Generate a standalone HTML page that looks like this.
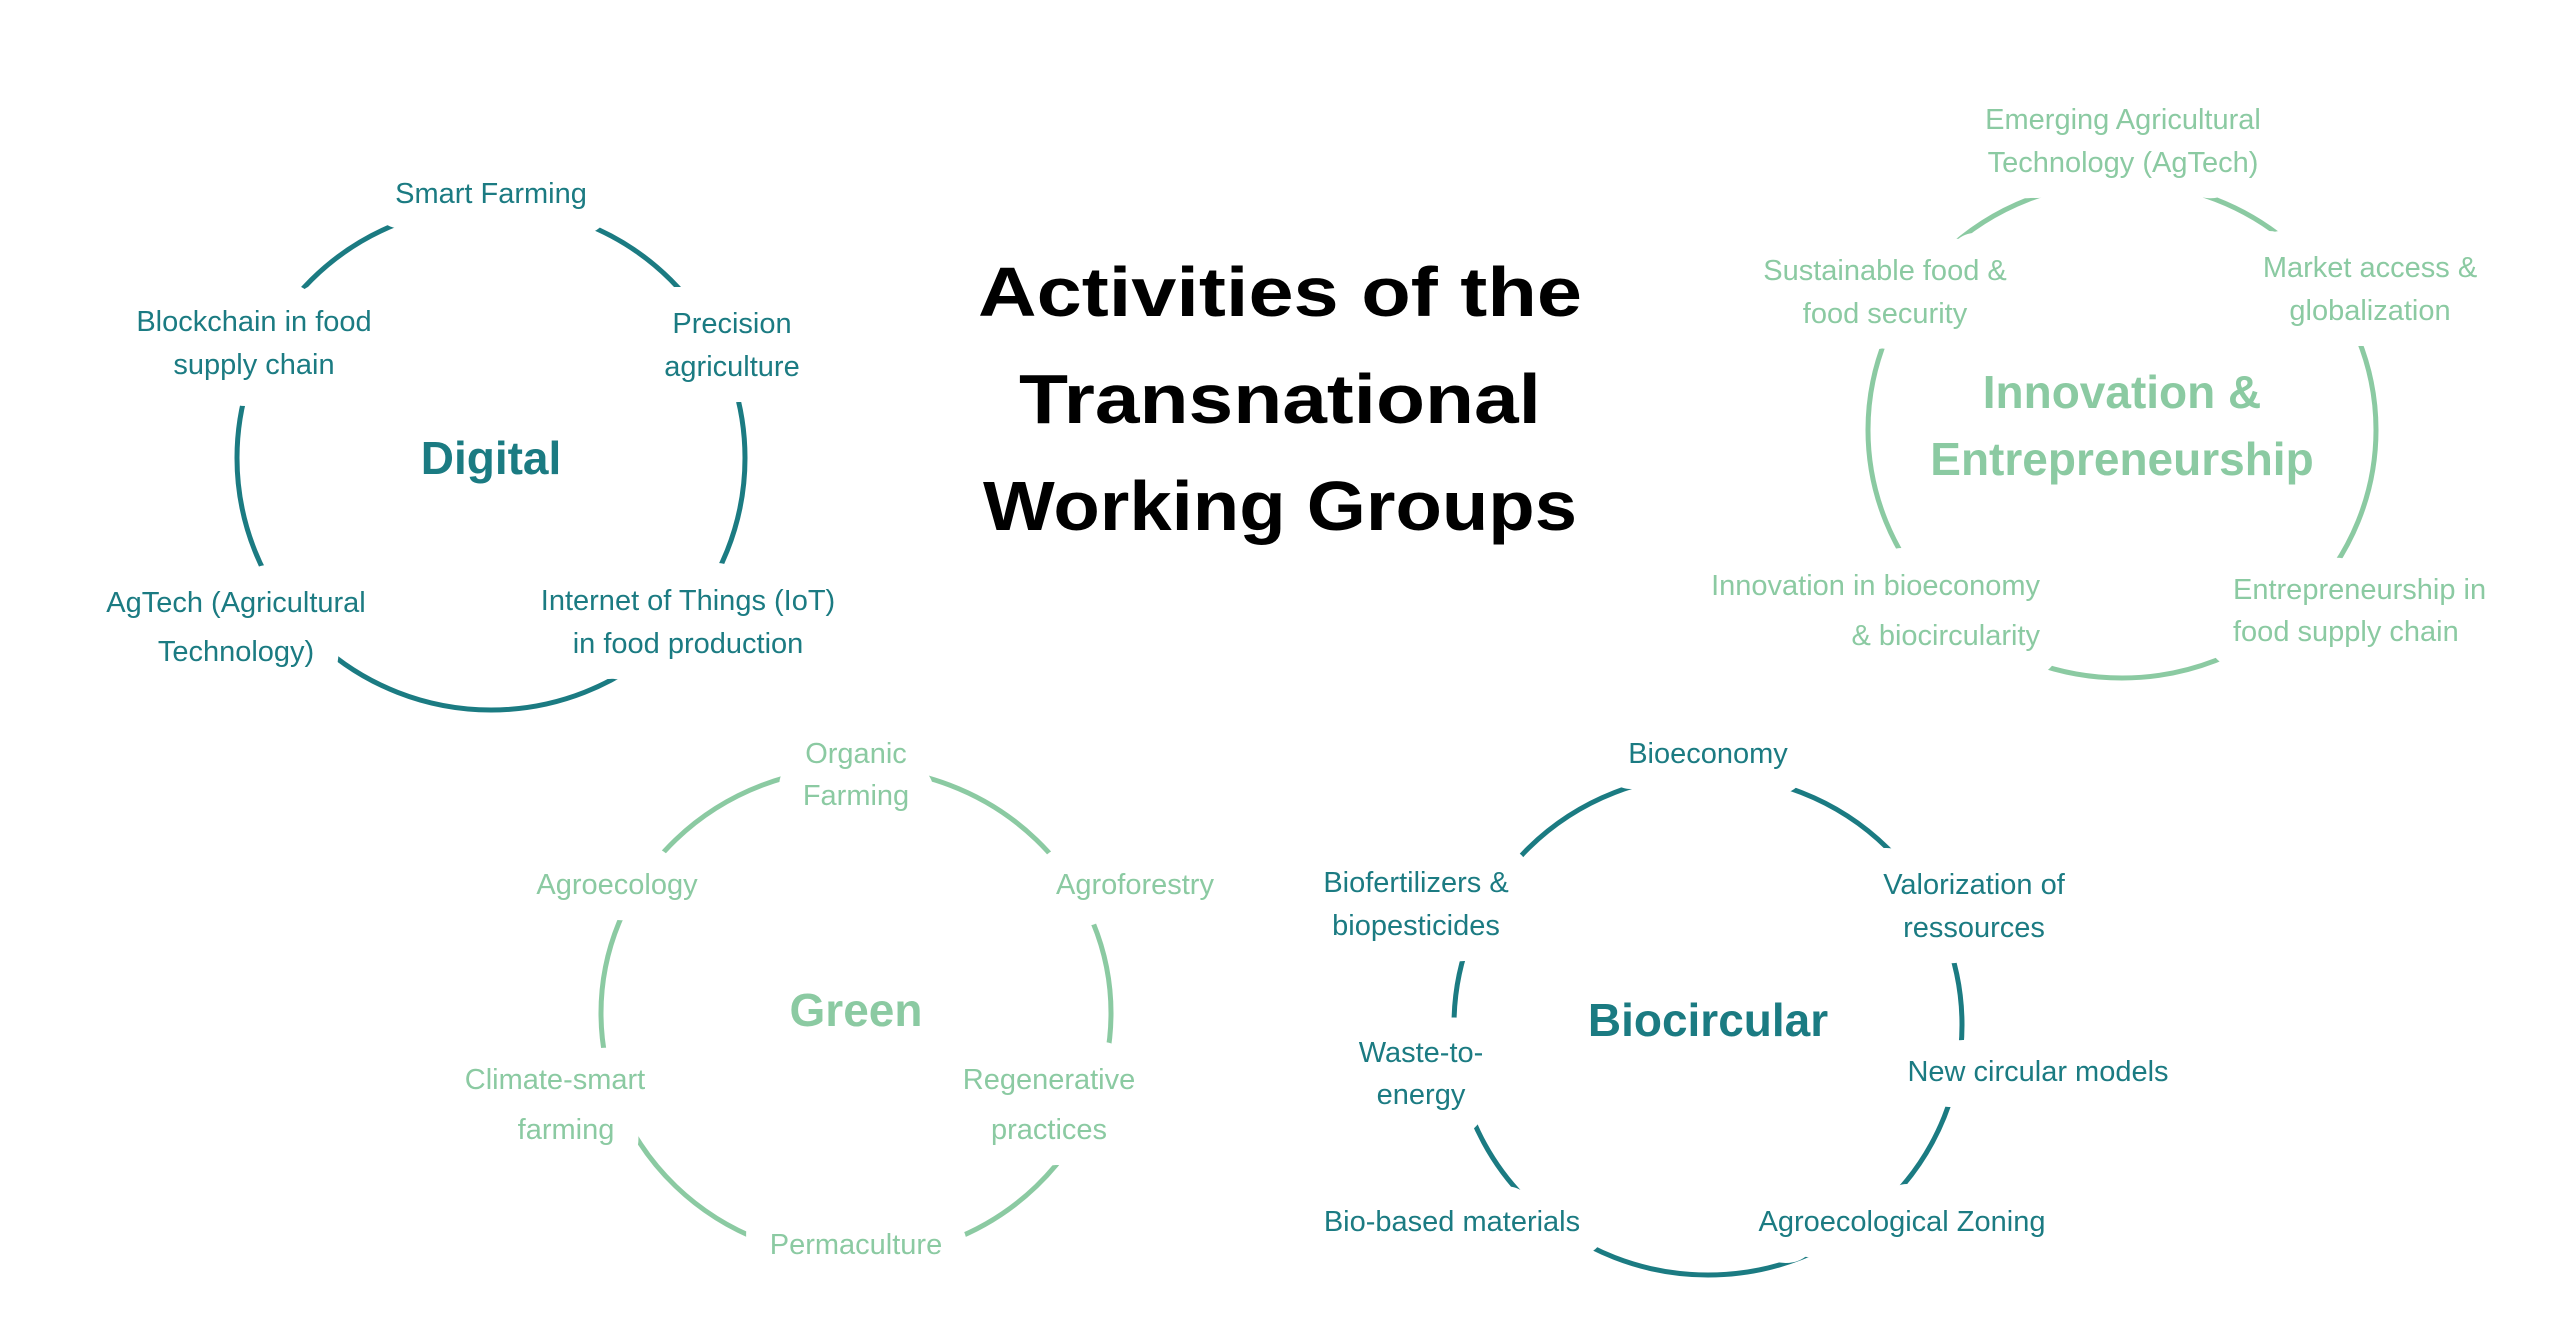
<!DOCTYPE html>
<html><head><meta charset="utf-8"><style>
html,body{margin:0;padding:0;background:#fff;}
svg{display:block;}
text{font-family:"Liberation Sans",sans-serif;}
.l{font-size:29px;text-anchor:middle;}
.h{font-weight:bold;font-size:46px;text-anchor:middle;}
</style></head><body>
<svg width="2560" height="1337" viewBox="0 0 2560 1337" xmlns="http://www.w3.org/2000/svg" xmlns:xlink="http://www.w3.org/1999/xlink">
<rect width="2560" height="1337" fill="#fff"/>
<defs>
<g id="tl">
<text class="l" x="496" y="205">Smart Farming</text>
<text class="l" x="259" y="333">Blockchain in food</text>
<text class="l" x="259" y="376">supply chain</text>
<text class="l" x="737" y="335">Precision</text>
<text class="l" x="737" y="378">agriculture</text>
<text class="l" x="241" y="614">AgTech (Agricultural</text>
<text class="l" x="241" y="663">Technology)</text>
<text class="l" x="693" y="612">Internet of Things (IoT)</text>
<text class="l" x="693" y="655">in food production</text>
<text class="l" x="1713" y="765">Bioeconomy</text>
<text class="l" x="1421" y="894">Biofertilizers &amp;</text>
<text class="l" x="1421" y="937">biopesticides</text>
<text class="l" x="1979" y="896">Valorization of</text>
<text class="l" x="1979" y="939">ressources</text>
<text class="l" x="1426" y="1064">Waste-to-</text>
<text class="l" x="1426" y="1106">energy</text>
<text class="l" x="2043" y="1083">New circular models</text>
<text class="l" x="1457" y="1233">Bio-based materials</text>
<text class="l" x="1907" y="1233">Agroecological Zoning</text>
</g>
<g id="gl">
<text class="l" x="2128" y="131">Emerging Agricultural</text>
<text class="l" x="2128" y="174">Technology (AgTech)</text>
<text class="l" x="1890" y="282">Sustainable food &amp;</text>
<text class="l" x="1890" y="325">food security</text>
<text class="l" x="2375" y="279">Market access &amp;</text>
<text class="l" x="2375" y="322">globalization</text>
<text class="l" x="2045" y="597" style="text-anchor:end">Innovation in bioeconomy</text>
<text class="l" x="2045" y="647" style="text-anchor:end">&amp; biocircularity</text>
<text class="l" x="2238" y="601" style="text-anchor:start">Entrepreneurship in</text>
<text class="l" x="2238" y="643" style="text-anchor:start">food supply chain</text>
<text class="l" x="861" y="765">Organic</text>
<text class="l" x="861" y="807">Farming</text>
<text class="l" x="622" y="896">Agroecology</text>
<text class="l" x="1140" y="896">Agroforestry</text>
<text class="l" x="560" y="1091">Climate-smart</text>
<text class="l" x="571" y="1141">farming</text>
<text class="l" x="1054" y="1091">Regenerative</text>
<text class="l" x="1054" y="1141">practices</text>
<text class="l" x="861" y="1256">Permaculture</text>
</g>
</defs>
<g transform="translate(-5,-2)">
<!-- circles -->
<ellipse cx="496" cy="460" rx="254" ry="252" fill="none" stroke="#1b7b82" stroke-width="5"/>
<ellipse cx="2127" cy="432" rx="254" ry="248" fill="none" stroke="#8bcaa2" stroke-width="5"/>
<ellipse cx="861" cy="1015" rx="255" ry="245" fill="none" stroke="#8bcaa2" stroke-width="5"/>
<ellipse cx="1713" cy="1027" rx="254" ry="250" fill="none" stroke="#1b7b82" stroke-width="5"/>

<!-- halos -->
<use xlink:href="#tl" fill="#fff" stroke="#fff" stroke-width="52" stroke-linejoin="round"/>
<use xlink:href="#gl" fill="#fff" stroke="#fff" stroke-width="52" stroke-linejoin="round"/>
<!-- labels -->
<use xlink:href="#tl" fill="#1b7b82"/>
<use xlink:href="#gl" fill="#8bcaa2"/>

<!-- title -->
<g font-weight="bold" font-size="70" text-anchor="middle" fill="#000">
<text x="1285" y="318" textLength="604" lengthAdjust="spacingAndGlyphs">Activities of the</text>
<text x="1285" y="425" textLength="522" lengthAdjust="spacingAndGlyphs">Transnational</text>
<text x="1285" y="532" textLength="594" lengthAdjust="spacingAndGlyphs">Working Groups</text>
</g>

<text class="h" x="496" y="476" fill="#1b7b82">Digital</text>
<text class="h" x="2127" y="410" fill="#8bcaa2">Innovation &amp;</text>
<text class="h" x="2127" y="477" fill="#8bcaa2">Entrepreneurship</text>
<text class="h" x="861" y="1028" fill="#8bcaa2">Green</text>
<text class="h" x="1713" y="1038" fill="#1b7b82">Biocircular</text>
</g>
</svg>
</body></html>
